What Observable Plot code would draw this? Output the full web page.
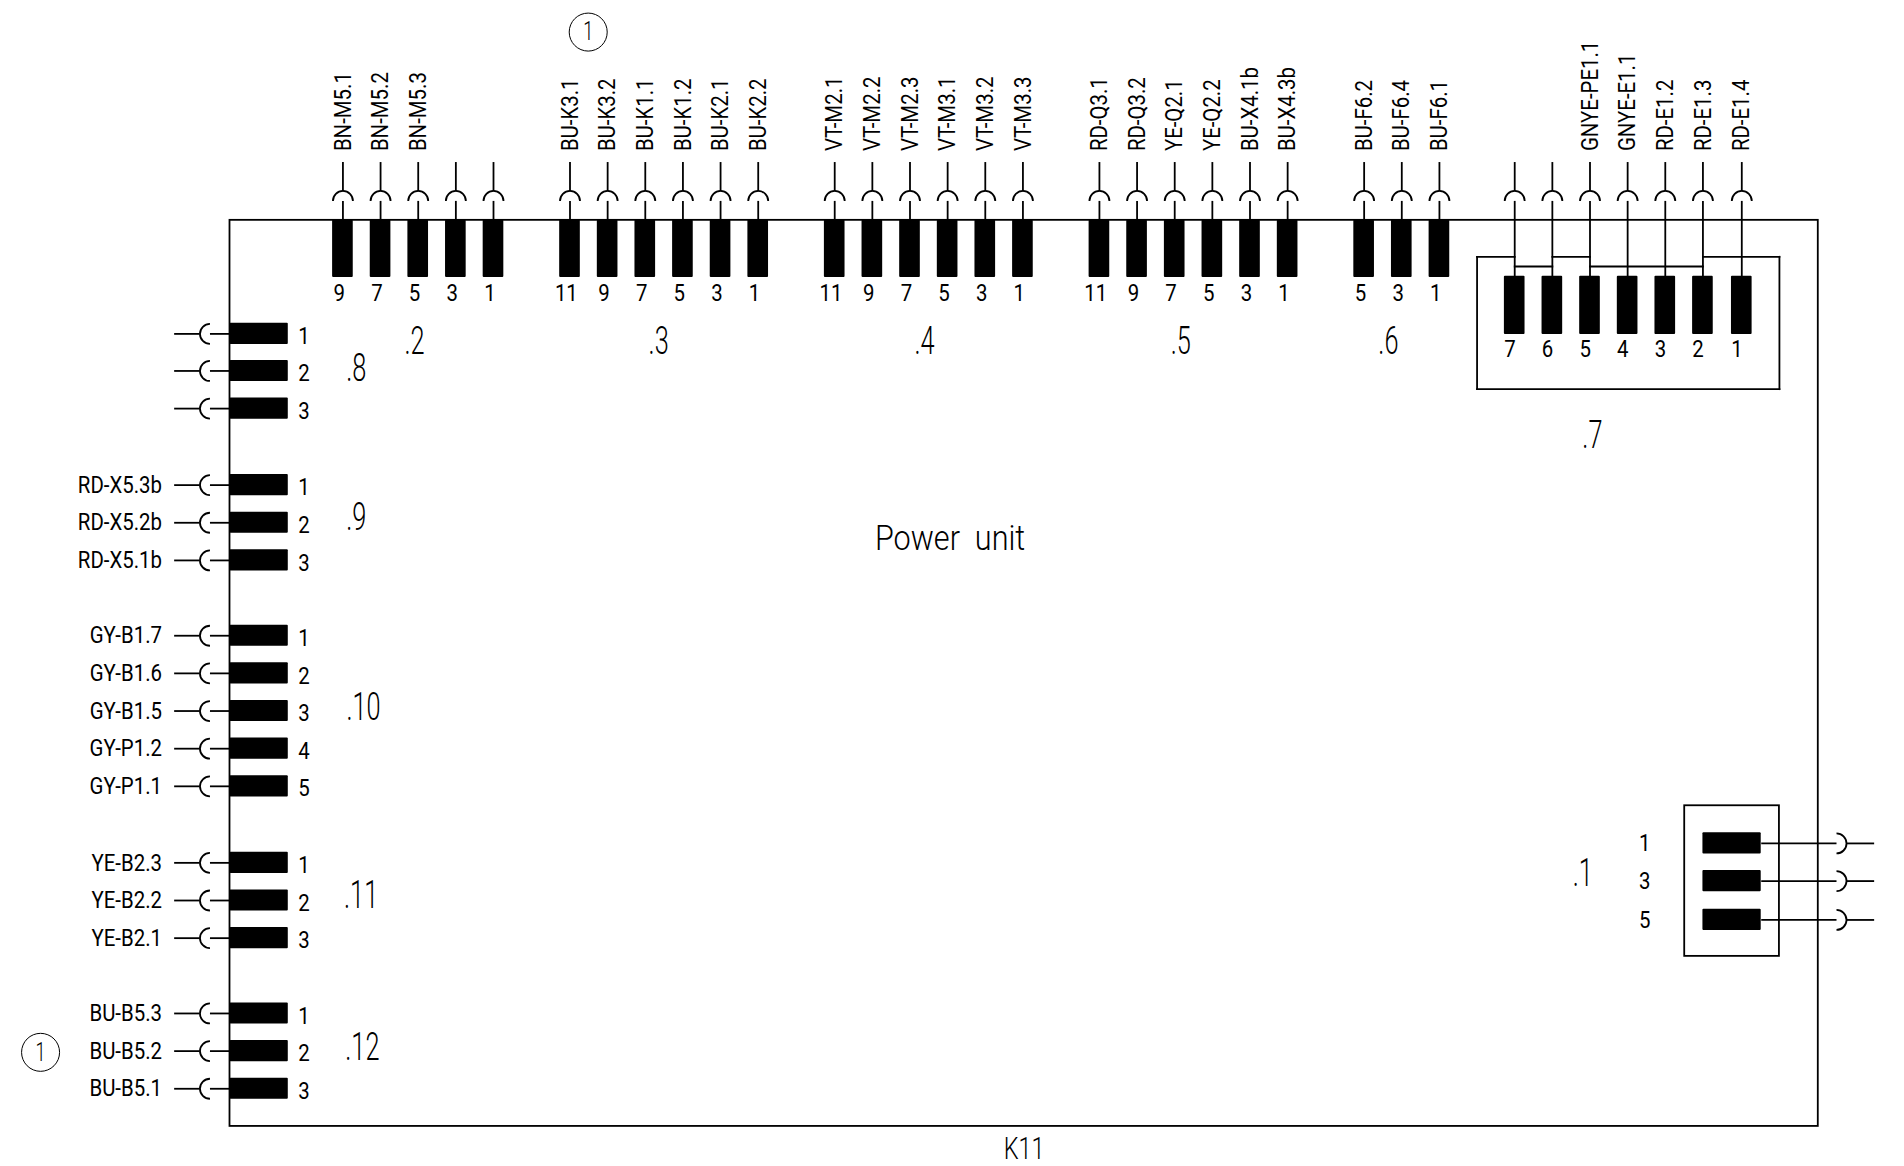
<!DOCTYPE html>
<html><head><meta charset="utf-8">
<script src="https://cdn.jsdelivr.net/npm/d3@7"></script>
<script src="https://cdn.jsdelivr.net/npm/@observablehq/plot@0.6"></script>
<style>html,body{margin:0;padding:0;background:#fff}svg{display:block}</style>
</head><body><div id="chart"></div>
<script>
// Drawing units: reference sheet grid
const SHEET_W = 1568, SHEET_H = 960;
const FRAME = {x1:189, x2:1497, y1:181, y2:927};
const topX2 = [282,313,344,375,406];
const topX3 = [469,500,531,562,593,624];
const topX4 = [687,718,749,780,811,842];
const topX5 = [905,936,967,998,1029,1060];
const topX6 = [1123,1154,1185];
const topX7 = [1247,1278,1309,1340,1371,1402,1434];
const labels2 = ["BN-M5.1","BN-M5.2","BN-M5.3","",""];
const labels3 = ["BU-K3.1","BU-K3.2","BU-K1.1","BU-K1.2","BU-K2.1","BU-K2.2"];
const labels4 = ["VT-M2.1","VT-M2.2","VT-M2.3","VT-M3.1","VT-M3.2","VT-M3.3"];
const labels5 = ["RD-Q3.1","RD-Q3.2","YE-Q2.1","YE-Q2.2","BU-X4.1b","BU-X4.3b"];
const labels6 = ["BU-F6.2","BU-F6.4","BU-F6.1"];
const labels7 = ["","","GNYE-PE1.1","GNYE-E1.1","RD-E1.2","RD-E1.3","RD-E1.4"];
const nums2 = ["9","7","5","3","1"];
const nums3 = ["11","9","7","5","3","1"];
const nums6 = ["5","3","1"];
const nums7 = ["7","6","5","4","3","2","1"];

const leftY8 = [274.5,305,336];
const leftY9 = [399,430,461];
const leftY10 = [523,554,585,616,647];
const leftY11 = [710,741,772];
const leftY12 = [834,865,896];
const labels8 = ["","",""];
const labels9 = ["RD-X5.3b","RD-X5.2b","RD-X5.1b"];
const labels10 = ["GY-B1.7","GY-B1.6","GY-B1.5","GY-P1.2","GY-P1.1"];
const labels11 = ["YE-B2.3","YE-B2.2","YE-B2.1"];
const labels12 = ["BU-B5.3","BU-B5.2","BU-B5.1"];
const numsLeft = ["1","2","3","4","5"];

const rightY1 = [694,725,757];
const numsRight = ["1","3","5"];

const groupNames = [".2",".3",".4",".5",".6",".7",".8",".9",".10",".11",".12",".1"];
const groupX = [341,542,761,972,1143,1311,293,293,299,297,298,1303];
const groupY = [281,281,281,281,281,358,303,426,582,737,862,719];
const box1 = [{x1:1387,x2:1465,y1:663,y2:787}];
const box7Sides = [
  {x1:1216,x2:1216,y1:211,y2:320},
  {x1:1465,x2:1465,y1:211,y2:320},
  {x1:1216,x2:1465,y1:320,y2:320}
];
const bridgeLow = [[1247,1278],[1309,1402]];
const bridgeHigh = [[1216,1247],[1278,1309],[1402,1465]];
const balloons = [{x:484,y:26},{x:33,y:866}];

const FONT = "Roboto,'DejaVu Sans',sans-serif";
const SQUEEZE = {24:0.85, 39:0.65, 36:0.85, 31:0.76, 26:0.7};

const topRows = [
  [topX2,labels2,nums2],[topX3,labels3,nums3],[topX4,labels4,nums3],
  [topX5,labels5,nums3],[topX6,labels6,nums6]
].flatMap(([xs,ls,ns])=>xs.map((x,i)=>({x,label:ls[i],num:ns[i]})));
const rows7 = topX7.map((x,i)=>({x,label:labels7[i],num:nums7[i]}));
const allTop = topRows.concat(rows7);
const leftRows = [
  [leftY8,labels8],[leftY9,labels9],[leftY10,labels10],[leftY11,labels11],[leftY12,labels12]
].flatMap(([ys,ls])=>ys.map((y,i)=>({y,label:ls[i],num:numsLeft[i]})));
const rightRows = rightY1.map((y,i)=>({y,num:numsRight[i]}));

const arc = (a0,a1)=>({draw(c,size){const r=Math.sqrt(size/Math.PI);c.moveTo(r*Math.cos(a0),r*Math.sin(a0));c.arc(0,0,r,a0,a1);}});
const arcLeft = arc(Math.PI/2,Math.PI*3/2), arcTop = arc(Math.PI,Math.PI*2), arcRight = arc(-Math.PI/2,Math.PI/2);

const line = {stroke:"#000",strokeWidth:1.8};
const txt = {fill:"#000",fontFamily:FONT,fontWeight:400};
const txtLight = {...txt,fontWeight:300};
const lineS = {...line,strokeLinecap:"square"};

const chart = Plot.plot({
  width:1904,height:1166,margin:0,
  x:{domain:[0,SHEET_W],range:[0,1904],axis:null},
  y:{domain:[0,SHEET_H],range:[0,1166],axis:null},
  style:{background:"#fff"},
  marks:[
    Plot.rect([FRAME],{x1:"x1",x2:"x2",y1:"y1",y2:"y2",fill:"none",...line}),
    Plot.rect(box1,{x1:"x1",x2:"x2",y1:"y1",y2:"y2",fill:"none",...line}),
    Plot.link(box7Sides,{x1:"x1",x2:"x2",y1:"y1",y2:"y2",...lineS}),
    Plot.link(bridgeHigh,{x1:d=>d[0],x2:d=>d[1],y1:()=>211,y2:()=>211,...lineS}),
    Plot.link(bridgeLow,{x1:d=>d[0],x2:d=>d[1],y1:()=>219,y2:()=>219,...lineS}),
    // top stems
    Plot.link(allTop,{x1:"x",x2:"x",y1:()=>133,y2:()=>157,...line}),
    Plot.link(allTop,{x1:"x",x2:"x",y1:()=>165,y2:d=>topX7.includes(d.x)?227:181,...line}),
    Plot.dot(allTop,{x:"x",y:()=>165,r:10,symbol:arcTop,fill:"none",...line}),
    Plot.rect(topRows,{x1:d=>d.x-8.5,x2:d=>d.x+8.5,y1:()=>181,y2:()=>228,fill:"#000",rx:1}),
    Plot.rect(rows7,{x1:d=>d.x-8.5,x2:d=>d.x+8.5,y1:()=>227,y2:()=>275,fill:"#000",rx:1}),
    Plot.text(allTop.filter(d=>d.label),{x:"x",y:()=>124,text:"label",rotate:-90,textAnchor:"start",fontSize:24,...txt}),
    Plot.text(topRows,{x:d=>d.x-3,y:()=>241,text:"num",fontSize:24,...txt}),
    Plot.text(rows7,{x:d=>d.x-4,y:()=>287,text:"num",fontSize:24,...txt}),
    // left stems
    Plot.link(leftRows,{x1:()=>143,x2:()=>164,y1:"y",y2:"y",...line}),
    Plot.link(leftRows,{x1:()=>172.5,x2:()=>189,y1:"y",y2:"y",...line}),
    Plot.dot(leftRows,{x:()=>172.5,y:"y",r:10,symbol:arcLeft,fill:"none",...line}),
    Plot.rect(leftRows,{x1:()=>189,x2:()=>237,y1:d=>d.y-8.7,y2:d=>d.y+8.7,fill:"#000",rx:1}),
    Plot.text(leftRows,{x:()=>250,y:d=>d.y+2,text:"num",fontSize:24,...txt}),
    Plot.text(leftRows.filter(d=>d.label),{x:()=>133,y:"y",text:"label",textAnchor:"end",fontSize:24,...txt}),
    // right connector
    Plot.link(rightRows,{x1:()=>1450,x2:()=>1512,y1:"y",y2:"y",...line}),
    Plot.link(rightRows,{x1:()=>1520,x2:()=>1543,y1:"y",y2:"y",...line}),
    Plot.dot(rightRows,{x:()=>1512,y:"y",r:10,symbol:arcRight,fill:"none",...line}),
    Plot.rect(rightRows,{x1:()=>1402,x2:()=>1450,y1:d=>d.y-8.7,y2:d=>d.y+8.7,fill:"#000",rx:1}),
    Plot.text(rightRows,{x:()=>1354,y:"y",text:"num",fontSize:24,...txt}),
    // group names and titles
    Plot.text(groupNames,{x:(d,i)=>groupX[i],y:(d,i)=>groupY[i],text:d=>d,fontSize:39,...txtLight}),
    Plot.text(["Power  unit"],{x:()=>782,y:()=>443,text:d=>d,fontSize:36,...txtLight}),
    Plot.text(["K11"],{x:()=>843,y:()=>945.5,text:d=>d,fontSize:31,...txtLight}),
    // balloons
    Plot.dot(balloons,{x:"x",y:"y",r:19,fill:"none",stroke:"#000",strokeWidth:1}),
    Plot.text(balloons,{x:"x",y:"y",text:()=>"1",fontSize:26,...txtLight})
  ]
});
chart.querySelectorAll("text").forEach(t=>{
  const fs = t.closest("[font-size]")?.getAttribute("font-size");
  const k = SQUEEZE[parseFloat(fs)] ?? 0.85;
  t.setAttribute("transform",(t.getAttribute("transform")||"")+` scale(${k},1)`);
});
document.getElementById("chart").appendChild(chart);
</script></body></html>
